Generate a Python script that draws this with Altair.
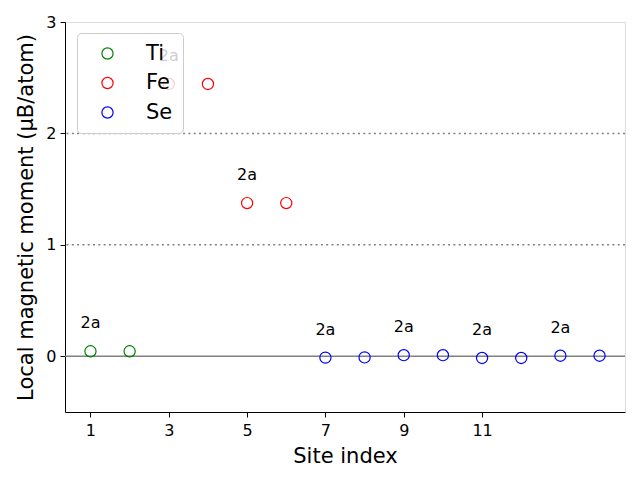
import altair as alt
import pandas as pd

sites = list(range(1, 15))
elements = ["Ti", "Ti", "Fe", "Fe", "Fe", "Fe",
            "Se", "Se", "Se", "Se", "Se", "Se", "Se", "Se"]
moments = [0.045, 0.045, 2.444, 2.444, 1.375, 1.375,
           -0.012, -0.010, 0.010, 0.010, -0.015, -0.015, 0.005, 0.005]
label_sites = [1, 3, 5, 7, 9, 11, 13]
label_text = ["2a"] * len(label_sites)
x_ticks = [1, 3, 5, 7, 9, 11]
y_ticks = [0, 1, 2, 3]
dotted_levels = [1, 2]
zero_level = [0]

legend_order = ["Ti", "Fe", "Se"]
legend_colors = ["green", "red", "blue"]

df = pd.DataFrame({"site": sites, "element": elements, "moment": moments})
lab = df[df["site"].isin(label_sites)].copy()
lab["text"] = label_text

FONT = "DejaVu Sans"
xs = alt.Scale(domain=[0.35, 14.65], nice=False, zero=False)
ys = alt.Scale(domain=[-0.5, 3], nice=False, zero=False)

dotted = alt.Chart(pd.DataFrame({"y": dotted_levels})).mark_rule(
    color="#808080", strokeDash=[2, 3.3], strokeWidth=1.5
).encode(y=alt.Y("y:Q", scale=ys))

zero = alt.Chart(pd.DataFrame({"y": zero_level})).mark_rule(
    color="#808080", strokeWidth=1.5
).encode(y=alt.Y("y:Q", scale=ys))

points = alt.Chart(df).mark_point(
    filled=False, shape="circle", size=125, strokeWidth=1.2, opacity=1
).encode(
    x=alt.X("site:Q", scale=xs,
            axis=alt.Axis(values=x_ticks, title="Site index", grid=False, format="d",
                          labelFontSize=16, titleFontSize=21, labelFont=FONT,
                          titleFont=FONT, titleFontWeight="normal",
                          labelColor="black", titleColor="black",
                          tickColor="black", domainColor="black",
                          tickSize=5, labelPadding=5, titlePadding=7,
                          labelFlush=False)),
    y=alt.Y("moment:Q", scale=ys,
            axis=alt.Axis(values=y_ticks, title="Local magnetic moment (μB/atom)",
                          grid=False, format="d", labelFontSize=16, titleFontSize=21,
                          labelFont=FONT, titleFont=FONT, titleFontWeight="normal",
                          labelColor="black", titleColor="black",
                          tickColor="black", domainColor="black",
                          tickSize=5, labelPadding=4, titlePadding=9,
                          labelFlush=False)),
    color=alt.Color("element:N",
                    scale=alt.Scale(domain=legend_order, range=legend_colors),
                    legend=alt.Legend(
                        title=None, orient="none", legendX=12, legendY=11,
                        symbolType="circle", symbolSize=125, symbolStrokeWidth=1.2,
                        symbolFillColor="transparent", symbolOffset=10,
                        labelFontSize=21, labelFont=FONT, labelColor="black",
                        labelOffset=28, rowPadding=7.5,
                        fillColor="rgba(255,255,255,0.8)", strokeColor="#cccccc",
                        cornerRadius=4, padding=10,
                    )),
)

labels = alt.Chart(lab).mark_text(
    fontSize=16, font=FONT, color="black", dy=-28, baseline="middle", align="center"
).encode(
    x=alt.X("site:Q", scale=xs),
    y=alt.Y("moment:Q", scale=ys),
    text="text:N",
)

chart = alt.layer(dotted, zero, points, labels).properties(
    width=560, height=390,
    autosize=alt.AutoSizeParams(type="none"),
    padding={"left": 57, "top": 14, "right": 7, "bottom": 58},
).configure_view(stroke="black", strokeWidth=1.2).configure(background="white")

chart.save("out.html", embed_options={"renderer": "svg", "actions": False})
